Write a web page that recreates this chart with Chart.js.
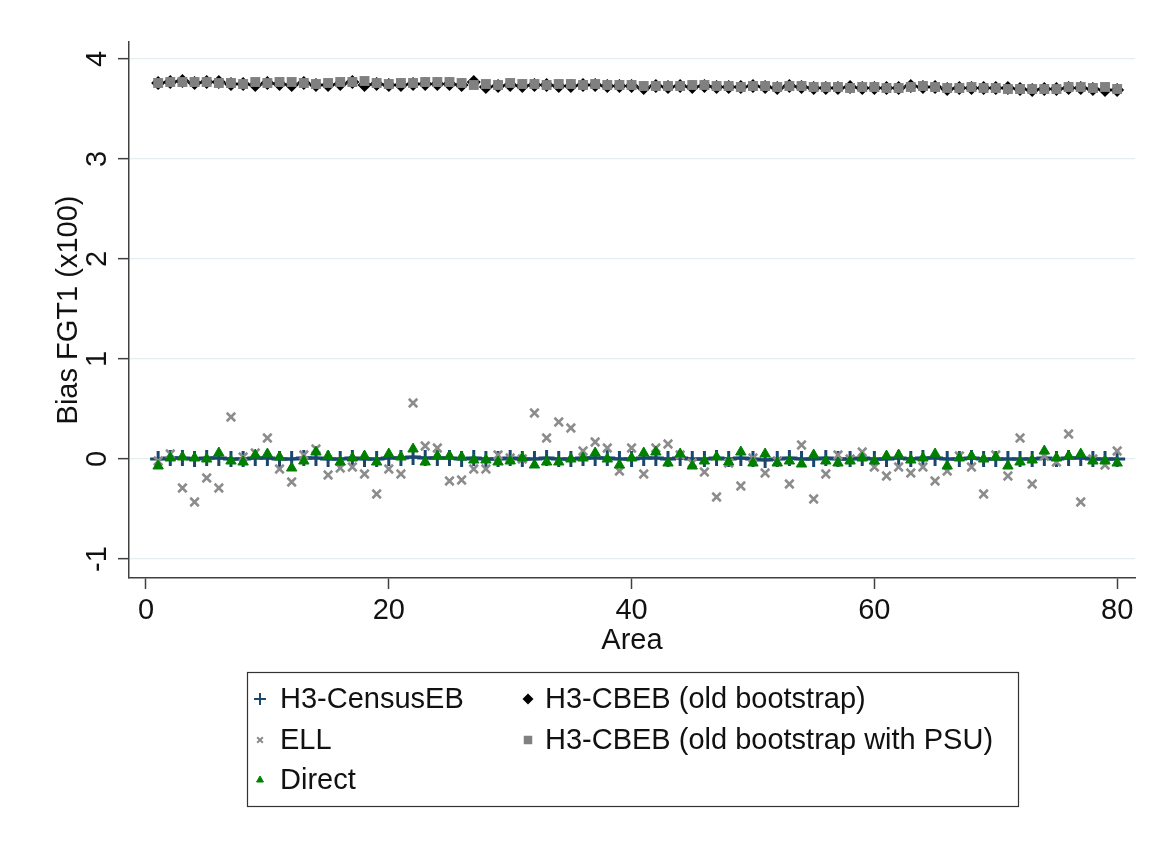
<!DOCTYPE html>
<html>
<head>
<meta charset="utf-8">
<script src="https://cdn.jsdelivr.net/npm/chart.js@4.4.1/dist/chart.umd.min.js"></script>
<style>
  html, body { margin: 0; padding: 0; background: #fff; }
</style>
</head>
<body>
<canvas id="chart" width="1150" height="841"></canvas>
<script>
// ---- data ----
const areas = [1,2,3,4,5,6,7,8,9,10,11,12,13,14,15,16,17,18,19,20,
  21,22,23,24,25,26,27,28,29,30,31,32,33,34,35,36,37,38,39,40,
  41,42,43,44,45,46,47,48,49,50,51,52,53,54,55,56,57,58,59,60,
  61,62,63,64,65,66,67,68,69,70,71,72,73,74,75,76,77,78,79,80];

const seriesNames = ['H3-CensusEB', 'ELL', 'Direct', 'H3-CBEB (old bootstrap)', 'H3-CBEB (old bootstrap with PSU)'];

const censusEB = [0.00,0.01,0.01,0.00,0.01,0.01,0.00,0.00,0.01,0.01,0.00,0.00,0.01,0.01,0.00,0.00,0.01,0.00,0.00,0.01,
  0.01,0.02,0.01,0.01,0.01,0.00,0.01,0.00,0.00,0.01,0.00,0.00,0.01,0.00,0.00,0.01,0.01,0.01,0.00,0.00,
  0.01,0.01,0.00,0.01,0.00,0.00,0.01,0.00,0.01,0.00,-0.01,0.00,0.01,0.00,0.00,0.01,0.00,0.00,0.01,0.00,
  0.00,0.01,0.00,0.01,0.01,0.00,0.00,0.01,0.00,0.00,0.00,0.00,0.00,0.01,0.00,0.01,0.01,0.00,0.00,0.00];

const ell = [-0.02,0.05,-0.29,-0.43,-0.19,-0.29,0.42,0.02,0.06,0.21,-0.10,-0.23,0.04,0.10,-0.16,-0.09,-0.08,-0.15,-0.35,-0.10,
  -0.15,0.56,0.13,0.11,-0.22,-0.21,-0.10,-0.10,0.04,0.01,0.00,0.46,0.21,0.37,0.31,0.08,0.17,0.11,-0.12,0.11,
  -0.15,0.11,0.15,0.04,-0.04,-0.13,-0.38,-0.04,-0.27,0.01,-0.14,-0.02,-0.25,0.14,-0.40,-0.15,0.04,0.00,0.07,-0.08,
  -0.17,-0.08,-0.14,-0.08,-0.22,-0.12,0.03,-0.08,-0.35,0.04,-0.17,0.21,-0.25,0.03,-0.03,0.25,-0.43,0.00,-0.06,0.08];

const direct = [-0.07,0.01,0.02,0.01,0.00,0.06,-0.02,-0.03,0.04,0.05,0.02,-0.09,-0.02,0.07,0.03,-0.03,0.01,0.03,-0.03,0.05,
  0.02,0.10,-0.03,0.03,0.03,0.02,-0.01,-0.01,-0.03,-0.02,0.01,-0.06,-0.03,-0.03,0.00,0.01,0.06,0.00,-0.06,0.01,
  0.06,0.07,-0.04,0.05,-0.07,-0.02,0.02,-0.03,0.07,-0.04,0.05,-0.04,-0.02,-0.05,0.04,-0.02,-0.04,-0.02,0.01,-0.02,
  0.03,0.04,-0.01,0.01,0.05,-0.07,0.01,0.03,0.00,0.02,-0.07,-0.03,-0.01,0.08,0.01,0.03,0.05,-0.02,-0.02,-0.04];

const cbebOld = [3.76,3.77,3.78,3.76,3.77,3.77,3.75,3.75,3.74,3.76,3.75,3.74,3.76,3.74,3.74,3.75,3.77,3.74,3.75,3.74,
  3.74,3.75,3.75,3.75,3.75,3.74,3.77,3.72,3.73,3.74,3.73,3.74,3.74,3.73,3.73,3.74,3.74,3.73,3.73,3.73,
  3.71,3.73,3.72,3.73,3.72,3.73,3.72,3.72,3.72,3.73,3.72,3.71,3.73,3.72,3.71,3.71,3.71,3.72,3.71,3.71,
  3.71,3.71,3.73,3.72,3.72,3.70,3.71,3.71,3.71,3.71,3.71,3.70,3.69,3.70,3.70,3.71,3.71,3.70,3.69,3.69];

const cbebPsu = [3.76,3.77,3.77,3.77,3.77,3.76,3.76,3.75,3.77,3.76,3.77,3.77,3.76,3.75,3.76,3.77,3.77,3.78,3.76,3.75,
  3.76,3.76,3.77,3.77,3.77,3.76,3.74,3.75,3.74,3.76,3.75,3.75,3.74,3.75,3.75,3.74,3.75,3.74,3.74,3.74,
  3.73,3.73,3.73,3.73,3.74,3.74,3.73,3.73,3.72,3.73,3.73,3.72,3.73,3.73,3.72,3.72,3.72,3.71,3.72,3.72,
  3.71,3.71,3.72,3.73,3.72,3.71,3.71,3.72,3.71,3.71,3.70,3.70,3.70,3.70,3.70,3.72,3.72,3.71,3.72,3.70];

const xTicks = [0, 20, 40, 60, 80];
const yTicks = [-1, 0, 1, 2, 3, 4];

// ---- styling ----
const FONT = "'Liberation Sans', Arial, sans-serif";
const FSIZE = 29;
const AXIS = '#404040';
const TEXT = '#111';

const toPoints = vals => vals.map((v, i) => ({ x: areas[i], y: v }));

const datasets = [
  { label: seriesNames[0], data: toPoints(censusEB), showLine: true,
    borderColor: '#1a476f', borderWidth: 3, backgroundColor: '#1a476f',
    pointStyle: 'cross', pointRadius: 8, pointBorderWidth: 3, order: 5 },
  { label: seriesNames[1], data: toPoints(ell),
    borderColor: '#8c8c8c', backgroundColor: '#8c8c8c',
    pointStyle: 'crossRot', pointRadius: 6, pointBorderWidth: 2.5, order: 4 },
  { label: seriesNames[2], data: toPoints(direct),
    borderColor: '#008000', backgroundColor: '#008000',
    pointStyle: 'triangle', pointRadius: 6, pointBorderWidth: 1, order: 3 },
  { label: seriesNames[3], data: toPoints(cbebOld),
    borderColor: '#000', backgroundColor: '#000',
    pointStyle: 'rectRot', pointRadius: 7, pointBorderWidth: 0, order: 2 },
  { label: seriesNames[4], data: toPoints(cbebPsu),
    borderColor: '#808080', backgroundColor: '#808080',
    pointStyle: 'rect', pointRadius: 7, pointBorderWidth: 0, order: 1 }
];

// legend in two columns, like the Stata one
const legendPlugin = {
  id: 'stataLegend',
  afterDraw(chart) {
    const c = chart.ctx;
    const slots = [[260, 699], [260, 740], [260, 780], [528, 699], [528, 740]];
    const marks = [
      { pointStyle: 'cross', radius: 6, borderWidth: 2 },
      { pointStyle: 'crossRot', radius: 4, borderWidth: 2 },
      { pointStyle: 'triangle', radius: 4, borderWidth: 1 },
      { pointStyle: 'rectRot', radius: 5.5, borderWidth: 0 },
      { pointStyle: 'rect', radius: 6, borderWidth: 0 }
    ];
    c.save();
    c.strokeStyle = '#333';
    c.lineWidth = 1.2;
    c.strokeRect(247.5, 672.5, 771, 134);
    c.font = FSIZE + 'px ' + FONT;
    c.textBaseline = 'middle';
    c.textAlign = 'left';
    chart.data.datasets.forEach((ds, i) => {
      const [x, y] = slots[i];
      c.fillStyle = ds.backgroundColor;
      c.strokeStyle = ds.borderColor;
      c.lineWidth = marks[i].borderWidth;
      Chart.helpers.drawPoint(c, { ...marks[i], rotation: 0 }, x, y);
      c.fillStyle = TEXT;
      c.fillText(ds.label, x + (i < 3 ? 20 : 17), y + 1);
    });
    c.restore();
  }
};

new Chart(document.getElementById('chart').getContext('2d'), {
  type: 'scatter',
  data: { datasets },
  options: {
    responsive: false,
    animation: false,
    events: [],
    layout: { padding: { left: 42, right: 15, top: 42, bottom: 183 } },
    plugins: { legend: { display: false }, tooltip: { enabled: false } },
    scales: {
      x: {
        type: 'linear', min: -1.4, max: 81.47,
        afterBuildTicks: s => { s.ticks = xTicks.map(v => ({ value: v })); },
        afterFit: s => { s.height = 80; },
        grid: { drawOnChartArea: false, tickLength: 11, tickColor: AXIS, tickWidth: 1.5 },
        border: { color: AXIS, width: 1.5 },
        ticks: { font: { family: FONT, size: FSIZE }, color: TEXT, padding: 5, maxRotation: 0 },
        title: { display: true, text: 'Area', font: { family: FONT, size: FSIZE }, color: TEXT, padding: { top: 0, bottom: 0 } }
      },
      y: {
        type: 'linear', min: -1.19, max: 4.17,
        afterBuildTicks: s => { s.ticks = yTicks.map(v => ({ value: v })); },
        afterFit: s => { s.width = 87; },
        grid: { color: '#e4eef0', lineWidth: 1.3, tickLength: 11, tickColor: AXIS, tickWidth: 1.5 },
        border: { color: AXIS, width: 1.5 },
        ticks: { font: { family: FONT, size: FSIZE }, color: TEXT, padding: 7, minRotation: 90, maxRotation: 90, crossAlign: 'center' },
        title: { display: true, text: 'Bias FGT1 (x100)', font: { family: FONT, size: FSIZE }, color: TEXT, padding: { top: 10, bottom: 0 } }
      }
    }
  },
  plugins: [legendPlugin]
});
</script>
</body>
</html>
